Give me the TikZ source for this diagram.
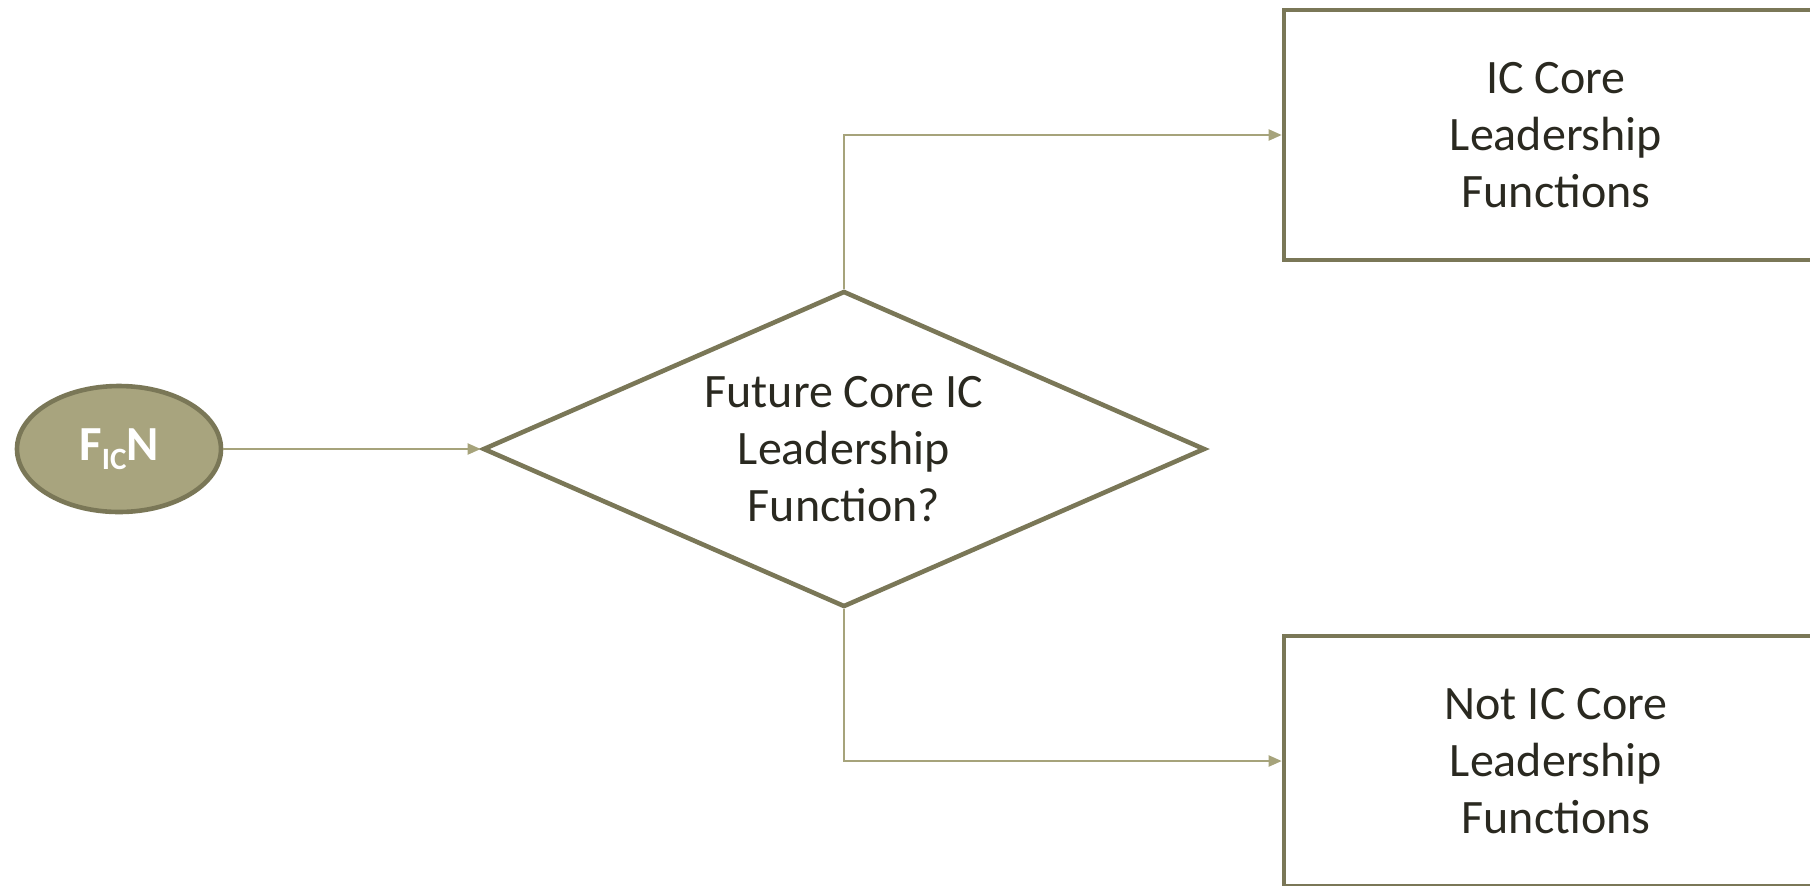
\documentclass[tikz,border=0pt]{standalone}
\usepackage{fontspec}
\setmainfont{Carlito}
\usetikzlibrary{positioning}
\usetikzlibrary{shapes.geometric}
\usetikzlibrary{arrows.meta}
\definecolor{oliveline}{HTML}{7A7757}
\definecolor{olivefill}{HTML}{A8A47E}
\definecolor{olivearrow}{HTML}{A6A37B}
\definecolor{inktext}{HTML}{2A2920}

\begin{document}
\begin{tikzpicture}[x=0.5pt,y=-0.5pt,
		startnode/.style={ellipse, draw=oliveline, fill=olivefill, line width=2.3pt, minimum width=102pt, minimum height=63pt, inner sep=0pt, text=white, font=\fontsize{24.5}{28}\selectfont\bfseries},
		decision/.style={diamond, draw=oliveline, line width=2.3pt, minimum width=361pt, minimum height=158pt, aspect=2.27, inner sep=0pt, align=center, text=inktext, font=\fontsize{24}{28.5}\selectfont},
		outbox/.style={rectangle, draw=oliveline, line width=2.3pt, minimum width=272pt, minimum height=125pt, align=center, text=inktext, font=\fontsize{24}{28.5}\selectfont},
		flow/.style={draw=olivearrow, line width=1pt, -{Triangle[length=6.5pt,width=5.5pt]}}]
		%% The page is cut to the size of the picture, the two boxes on the right run over its edge
		\clip (0,0) rectangle (1810,885);
		%% Nodes
		\node[startnode] (fin) at (119,449) {F\raisebox{-0.4ex}{\fontsize{15.5}{15.5}\selectfont IC}N};
		\node[decision] (core) at (844,449) {Future Core IC\\Leadership\\Function?};
		\node[outbox] (yes) at (1556,135) {IC Core\\Leadership\\Functions};
		\node[outbox] (no) at (1556,761) {Not IC Core\\Leadership\\Functions};
		%% Connectors
		\draw[flow] (fin) -- (core);
		\draw[flow] (core.north) |- (yes.west);
		\draw[flow] (core.south) |- (no.west);
	\end{tikzpicture}
\end{document}
